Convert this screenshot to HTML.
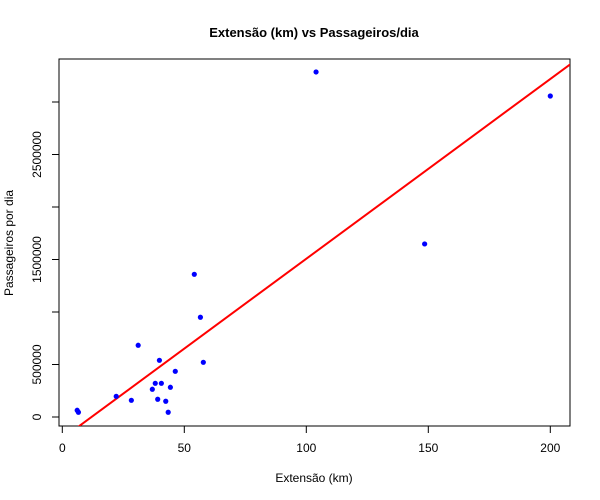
<!DOCTYPE html>
<html><head><meta charset="utf-8"><style>
body{margin:0;background:#fff}
svg{display:block;font-family:"Liberation Sans",Arial,sans-serif}
</style></head><body>
<svg id="chart" width="600" height="500">
<text x="314" y="37" text-anchor="middle" font-size="13" font-weight="bold">Extensão (km) vs Passageiros/dia</text>
<text x="314" y="482" text-anchor="middle" font-size="12">Extensão (km)</text>
<text transform="translate(13,243) rotate(-90)" text-anchor="middle" font-size="12">Passageiros por dia</text>
<rect x="59" y="59" width="511" height="367" fill="none" stroke="#000"/>
<g id="axes"></g>
<g id="marks"></g>
</svg>
<script>
const extensao = [104, 200, 148.5, 54.1, 56.6, 57.8, 31.1, 39.8, 46.3, 38.1, 40.6, 36.9, 44.3, 22.1, 28.3, 39.1, 42.4, 43.4, 6.1, 6.6];
const passageiros = [3286000, 3057000, 1648000, 1359000, 950000, 521000, 683000, 540000, 435000, 321000, 321000, 264000, 283000, 197000, 159000, 169000, 150000, 45000, 64000, 45000];
const xTicks = [0, 50, 100, 150, 200];
const yTicks = [0, 500000, 1000000, 1500000, 2000000, 2500000, 3000000];
const yTickLabels = ["0", "500000", "", "1500000", "", "2500000", ""];

const NS = "http://www.w3.org/2000/svg";
const X0 = 62.3, XS = 2.44, Y0 = 417, YS = 105e-6;
const xScale = v => X0 + v * XS;
const yScale = v => Y0 - v * YS;
const axes = document.getElementById('axes');
const marks = document.getElementById('marks');
function mk(tag, attrs, parent) {
  const e = document.createElementNS(NS, tag);
  for (const k in attrs) e.setAttribute(k, attrs[k]);
  parent.appendChild(e);
  return e;
}
mk('line', {x1: xScale(xTicks[0]), x2: xScale(xTicks[xTicks.length-1]), y1: 426, y2: 426, stroke: '#000'}, axes);
xTicks.forEach(t => {
  const l = mk('line', {x1: xScale(t), x2: xScale(t), y1: 426, y2: 433, stroke: '#000'}, axes);
  
  
  const tx = mk('text', {x: xScale(t), y: 452, 'text-anchor': 'middle', 'font-size': 12}, axes);
  tx.textContent = t;
  
  
});
mk('line', {x1: 59, x2: 59, y1: yScale(yTicks[0]), y2: yScale(yTicks[yTicks.length-1]), stroke: '#000'}, axes);
yTicks.forEach((t, i) => {
  const y = yScale(t);
  const l = mk('line', {x1: 52, x2: 59, y1: y, y2: y, stroke: '#000'}, axes);
  
  
  if (yTickLabels[i]) {
    const tx = mk('text', {transform: `translate(41,${y}) rotate(-90)`, 'text-anchor': 'middle', 'font-size': 12}, axes);
    tx.textContent = yTickLabels[i];
    
    
  }
});
const n = extensao.length;
const mx = extensao.reduce((a,b)=>a+b,0)/n, my = passageiros.reduce((a,b)=>a+b,0)/n;
let sxy = 0, sxx = 0;
for (let i = 0; i < n; i++) { sxy += (extensao[i]-mx)*(passageiros[i]-my); sxx += (extensao[i]-mx)**2; }
const slope = sxy / sxx, icpt = my - slope * mx;
const clip = mk('clipPath', {id: 'pc'}, marks);
mk('rect', {x: 59, y: 59, width: 511, height: 367}, clip);
const xa = -2, xb = 212;
const rl = mk('line', {x1: xScale(xa), y1: yScale(icpt + slope*xa), x2: xScale(xb), y2: yScale(icpt + slope*xb), stroke: '#ff0000', 'stroke-width': 2, 'clip-path': 'url(#pc)'}, marks);


for (let i = 0; i < n; i++) {
  const c = mk('circle', {cx: xScale(extensao[i]), cy: yScale(passageiros[i]), r: 2.6, fill: '#0000ff'}, marks);
  
  
}
</script>
</body></html>
